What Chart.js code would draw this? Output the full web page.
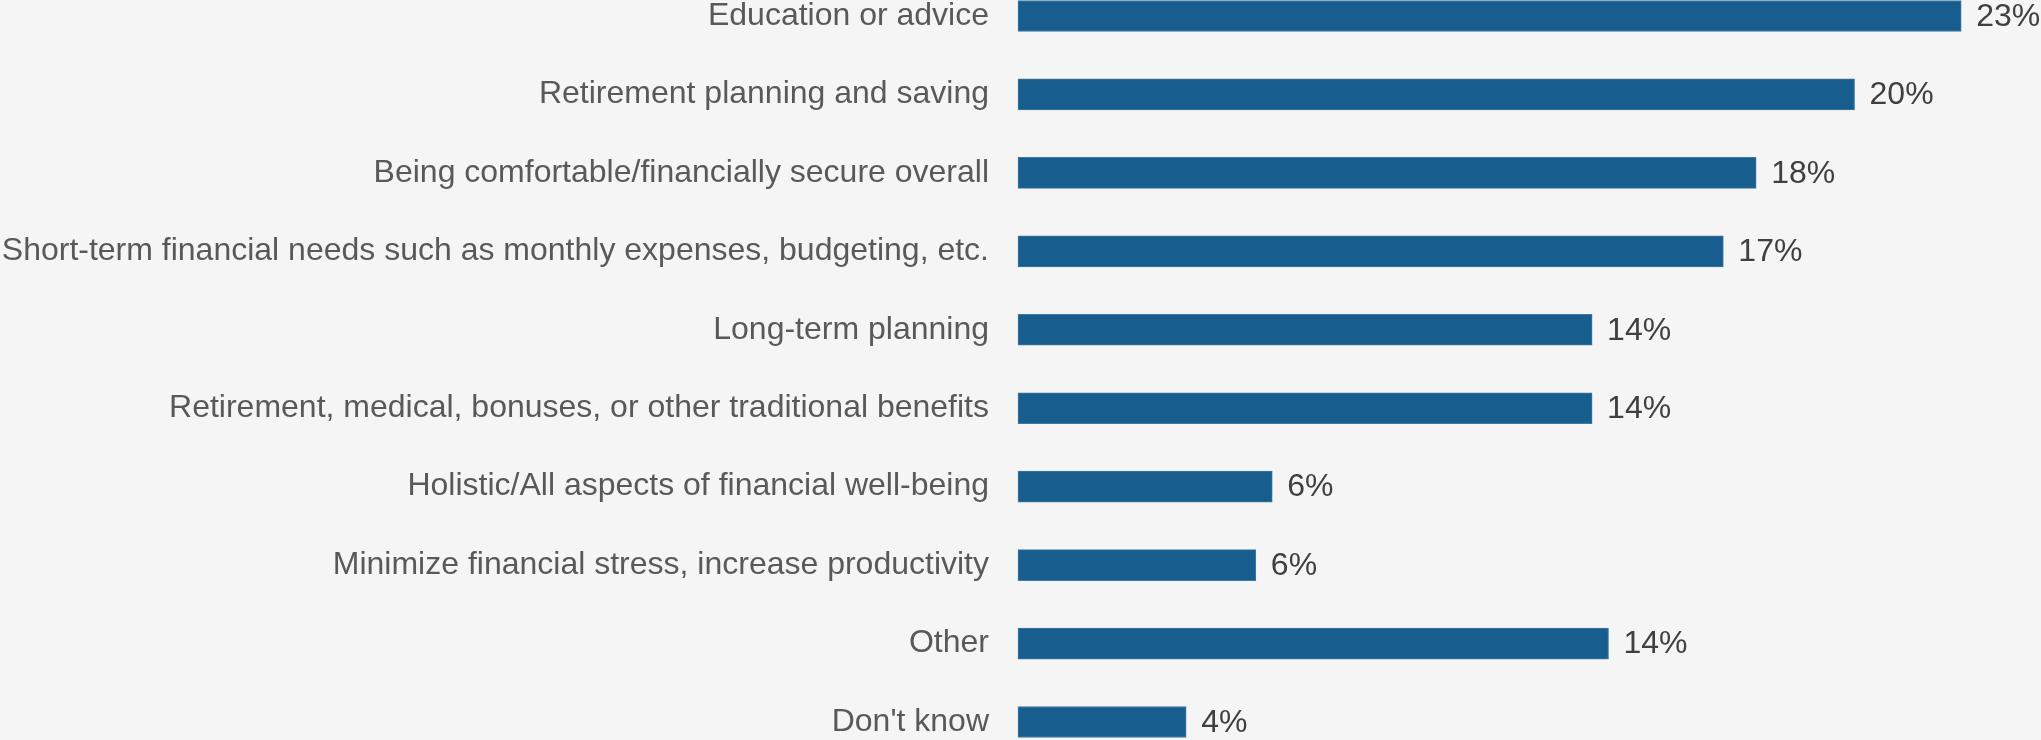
<!DOCTYPE html>
<html>
<head>
<meta charset="utf-8">
<script src="https://cdn.jsdelivr.net/npm/chart.js@4"></script>
<style>
  html, body { margin: 0; padding: 0; background: #f5f5f5; }
  #wrap { width: 2041px; height: 740px; }
</style>
</head>
<body>
<div id="wrap"><canvas id="goalsChart"></canvas></div>
<script>
// categorias y porcentajes
const categories = [
  'Education or advice',
  'Retirement planning and saving',
  'Being comfortable/financially secure overall',
  'Short-term financial needs such as monthly expenses, budgeting, etc.',
  'Long-term planning',
  'Retirement, medical, bonuses, or other traditional benefits',
  'Holistic/All aspects of financial well-being',
  'Minimize financial stress, increase productivity',
  'Other',
  "Don't know"
];
const shares = [23, 20.4, 18, 17.2, 14, 14, 6.2, 5.8, 14.4, 4.1];

const fontFamily = '"Liberation Sans", Arial, sans-serif';

// etiqueta de valor al final de cada barra
const valueLabels = {
  id: 'valueLabels',
  afterDatasetsDraw(chart) {
    const ctx = chart.ctx;
    const meta = chart.getDatasetMeta(0);
    ctx.save();
    ctx.font = '32px ' + fontFamily;
    ctx.fillStyle = '#404040';
    ctx.textAlign = 'left';
    ctx.textBaseline = 'middle';
    meta.data.forEach((bar, i) => {
      ctx.fillText(Math.round(shares[i]) + '%', bar.x + 15, bar.y + 1);
    });
    ctx.restore();
  }
};

const ctx = document.getElementById('goalsChart').getContext('2d');
const goalsChart = new Chart(ctx, {
  type: 'bar',
  data: {
    labels: categories,
    datasets: [{
      data: shares,
      backgroundColor: '#175e8e',
      borderColor: '#3f7aa3',
      borderWidth: 1,
      borderSkipped: false,
      barThickness: 31,
      clip: false
    }]
  },
  options: {
    indexAxis: 'y',
    responsive: true,
    maintainAspectRatio: false,
    animation: false,
    layout: { padding: { top: 16, bottom: 18, right: 6, left: 0 } },
    plugins: {
      legend: { display: false },
      tooltip: { enabled: false }
    },
    scales: {
      x: {
        display: false,
        min: 0,
        max: 24.8
      },
      y: {
        offset: false,
        grid: { display: false },
        border: { display: false },
        ticks: {
          padding: 21,
          color: '#595959',
          font: { family: fontFamily, size: 32 }
        },
        afterFit(scale) {
          scale.width = 1018;
          scale.paddingTop = 0;
          scale.paddingBottom = 0;
        }
      }
    }
  },
  plugins: [valueLabels]
});
</script>
</body>
</html>
